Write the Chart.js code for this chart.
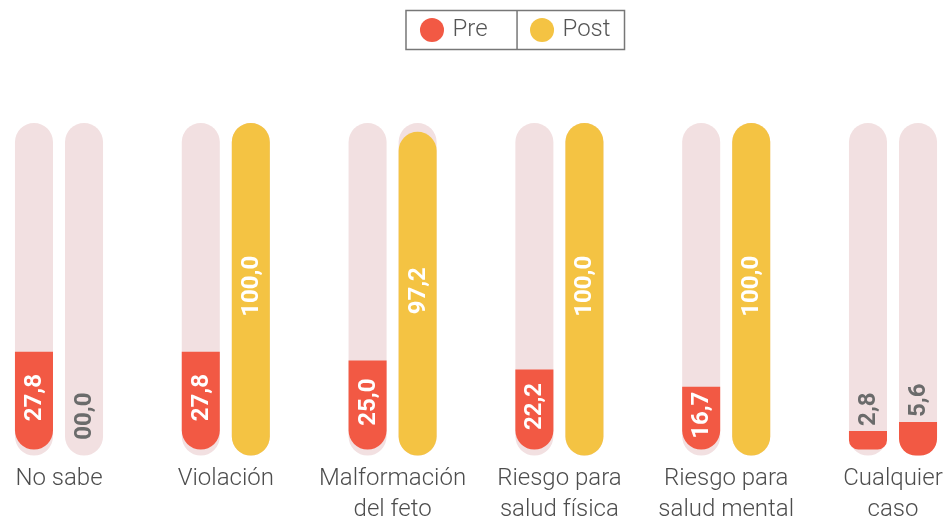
<!DOCTYPE html>
<html>
<head>
<meta charset="utf-8">
<script src="https://cdn.jsdelivr.net/npm/chart.js@4"></script>
<style>
  html, body { margin: 0; padding: 0; background: #ffffff; }
  #wrap { width: 945px; height: 529px; position: relative; }
</style>
</head>
<body>
<div id="wrap"><canvas id="c"></canvas></div>
<script>
// ---- data ----
const categories = [
  'No sabe',
  'Violación',
  ['Malformación', 'del feto'],
  ['Riesgo para', 'salud física'],
  ['Riesgo para', 'salud mental'],
  ['Cualquier', 'caso']
];
const seriesNames = ['Pre', 'Post'];
const preValues  = [27.8, 27.8, 25.0, 22.2, 16.7, 2.8];
const postValues = [0.0, 100.0, 97.2, 100.0, 100.0, 5.6];
const scaleMax = 100;
const trackValues = categories.map(() => scaleMax);

// ---- styles ----
const RED = '#F25944';
const YELLOW = '#F4C343';
const TRACK = '#F2E0E1';
const TEXT = '#4d4d4d';
const VALUE_GREY = '#6b6b6b';
const postColors = [YELLOW, YELLOW, YELLOW, YELLOW, YELLOW, RED];
const AXIS_MIN = -5;     // visual base of the rounded tracks
const PRE_BASE = -3.1;   // leaves a little track visible under the Pre bars
const R = 19;

Chart.defaults.font.family = 'Roboto';

function fmt(v) {
  if (v === 0) return '00,0';
  return v.toFixed(1).replace('.', ',');
}

const legendSpacer = {
  id: 'legendSpacer',
  beforeInit(chart) {
    const lg = chart.legend;
    const f = lg.fit;
    lg.fit = function () { f.call(this); this.height = 123; };
  },
  afterLayout(chart) {
    const lg = chart.legend;
    const dx = 41, dy = -28;
    lg.left += dx; lg.right += dx;
    lg.top += dy; lg.bottom += dy;
  },
  afterDraw(chart) {
    const lg = chart.legend;
    const hb = lg.legendHitBoxes;
    if (!hb || hb.length < 2) return;
    const ctx = chart.ctx;
    const cy = hb[0].top + hb[0].height / 2;
    const left = hb[0].left - 17.5;
    const right = hb[1].left + hb[1].width + 14;
    const mid = hb[1].left - 16.5;
    ctx.save();
    ctx.strokeStyle = '#777777';
    ctx.lineWidth = 1.5;
    ctx.strokeRect(left, cy - 19.5, right - left, 39);
    ctx.beginPath();
    ctx.moveTo(mid, cy - 19.5);
    ctx.lineTo(mid, cy + 19.5);
    ctx.stroke();
    ctx.restore();
  }
};

const valueLabels = {
  id: 'valueLabels',
  afterDatasetsDraw(chart) {
    const ctx = chart.ctx;
    ctx.save();
    ctx.font = 'bold 24px Roboto';
    ctx.textAlign = 'center';
    ctx.textBaseline = 'middle';
    [0, 1].forEach(di => {
      const meta = chart.getDatasetMeta(di);
      const vals = chart.data.datasets[di].data;
      meta.data.forEach((el, i) => {
        const v = vals[i];
        const txt = fmt(v);
        const tw = ctx.measureText(txt).width;
        const bottom = el.base;
        const top = el.y;
        let cy, color;
        if (v > 0 && bottom - top > tw + 12) {
          cy = (top + bottom) / 2 - 3;
          color = '#ffffff';
        } else {
          cy = top - (v === 0 ? 0 : 5) - tw / 2;
          color = VALUE_GREY;
        }
        ctx.save();
        ctx.translate(el.x, cy);
        ctx.rotate(-Math.PI / 2);
        ctx.fillStyle = color;
        ctx.fillText(txt, 0, 1);
        ctx.restore();
      });
    });
    ctx.restore();
  }
};

const common = {
  base: AXIS_MIN,
  borderSkipped: false,
  borderWidth: 0,
  categoryPercentage: 0.6,
  barPercentage: 0.76,
  clip: false
};

new Chart(document.getElementById('c'), {
  type: 'bar',
  data: {
    labels: categories,
    datasets: [
      Object.assign({}, common, {
        label: seriesNames[0],
        data: preValues,
        stack: 'pre',
        order: 0,
        base: PRE_BASE,
        backgroundColor: RED,
        borderRadius: { topLeft: 0, topRight: 0, bottomLeft: R, bottomRight: R }
      }),
      Object.assign({}, common, {
        label: seriesNames[1],
        data: postValues,
        stack: 'post',
        order: 0,
        backgroundColor: ctx => (ctx.raw === 0 ? 'rgba(0,0,0,0)' : postColors[ctx.dataIndex]),
        borderRadius: ctx => (postColors[ctx.dataIndex] === RED
          ? { topLeft: 0, topRight: 0, bottomLeft: R, bottomRight: R }
          : R)
      }),
      Object.assign({}, common, {
        label: 'trackPre',
        data: trackValues,
        stack: 'pre',
        order: 1,
        backgroundColor: TRACK,
        borderRadius: R
      }),
      Object.assign({}, common, {
        label: 'trackPost',
        data: trackValues,
        stack: 'post',
        order: 1,
        backgroundColor: TRACK,
        borderRadius: R
      })
    ]
  },
  options: {
    responsive: true,
    maintainAspectRatio: false,
    animation: false,
    layout: { padding: { left: 59, right: 52, top: 0, bottom: -5 } },
    scales: {
      x: {
        offset: false,
        grid: { display: false, drawTicks: false },
        border: { display: false },
        afterFit(scale) { scale.paddingLeft = 0; scale.paddingRight = 0; },
        ticks: {
          color: TEXT,
          padding: 8,
          maxRotation: 0,
          autoSkip: false,
          font: { family: 'Roboto', weight: '300', size: 24, lineHeight: 1.3 }
        }
      },
      y: {
        display: false,
        stacked: false,
        min: AXIS_MIN,
        max: scaleMax
      }
    },
    plugins: {
      tooltip: { enabled: false },
      legend: {
        position: 'top',
        labels: {
          usePointStyle: true,
          boxWidth: 17,
          boxHeight: 17,
          padding: 46,
          color: '#555555',
          font: { family: 'Roboto', weight: '300', size: 24 },
          generateLabels: () => [
            { text: seriesNames[0], fillStyle: RED, strokeStyle: RED, lineWidth: 0, pointStyle: 'circle', datasetIndex: 0, fontColor: '#555555' },
            { text: seriesNames[1], fillStyle: YELLOW, strokeStyle: YELLOW, lineWidth: 0, pointStyle: 'circle', datasetIndex: 1, fontColor: '#555555' }
          ]
        }
      }
    }
  },
  plugins: [legendSpacer, valueLabels]
});
</script>
</body>
</html>
